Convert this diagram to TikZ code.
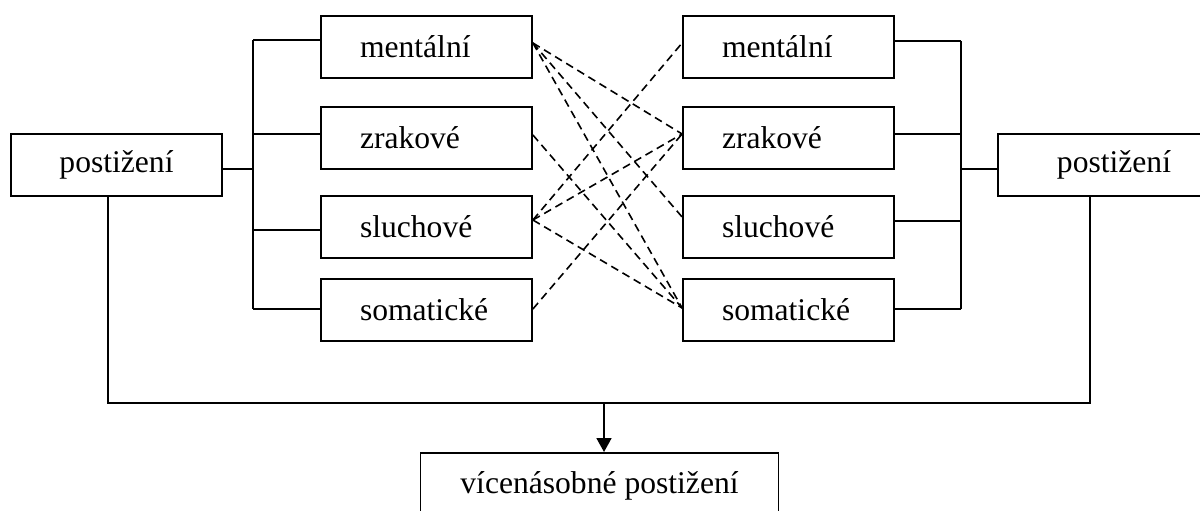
\documentclass[tikz,border=0pt]{standalone}
\usepackage{fontspec}
\setmainfont{Liberation Serif}
\usetikzlibrary{arrows.meta}
\begin{document}
\begin{tikzpicture}[x=1pt,y=-1pt,
  box/.style={draw,line width=1.8pt,inner sep=0pt,minimum height=62pt,
    font=\fontsize{31.6}{38}\selectfont},
  smallbox/.style={box,minimum width=211pt,text width=133pt,inner xsep=39pt,align=left},
  conn/.style={line width=1.8pt},
  dline/.style={line width=1.6pt,dash pattern=on 8pt off 5pt}]
\useasboundingbox (0,0) rectangle (1200,511);
% left side
\node[box,minimum width=211pt] (lp) at (116.5,165) {postižení};
\node[smallbox] (lm) at (426.5,47) {mentální};
\node[smallbox] (lz) at (426.5,138) {zrakové};
\node[smallbox] (ls) at (426.5,227) {sluchové};
\node[smallbox] (lo) at (426.5,310) {somatické};
% right side
\node[smallbox] (rm) at (788.5,47) {mentální};
\node[smallbox] (rz) at (788.5,138) {zrakové};
\node[smallbox] (rs) at (788.5,227) {sluchové};
\node[smallbox] (ro) at (788.5,310) {somatické};
\node[box,minimum width=232pt] (rp) at (1114,165) {postižení};
% bottom
\node[box,anchor=north,minimum width=358pt,minimum height=0pt,inner ysep=18pt,
  text height=23pt,text depth=10pt] (vp) at (599.5,452) {vícenásobné postižení};
% left bracket
\coordinate (lb0) at (253,169);
\coordinate (lb1) at (253,40);
\coordinate (lb2) at (253,134);
\coordinate (lb3) at (253,230);
\coordinate (lb4) at (253,309);
\draw[conn] (lp.east |- lb0) -- (lb0);
\draw[conn] (lb1) -- (lb4);
\draw[conn] (lb1) -- (lm.west |- lb1);
\draw[conn] (lb2) -- (lz.west |- lb2);
\draw[conn] (lb3) -- (ls.west |- lb3);
\draw[conn] (lb4) -- (lo.west |- lb4);
% right bracket
\coordinate (rb0) at (961,169);
\coordinate (rb1) at (961,41);
\coordinate (rb2) at (961,134);
\coordinate (rb3) at (961,221);
\coordinate (rb4) at (961,309);
\draw[conn] (rp.west |- rb0) -- (rb0);
\draw[conn] (rb1) -- (rb4);
\draw[conn] (rb1) -- (rm.east |- rb1);
\draw[conn] (rb2) -- (rz.east |- rb2);
\draw[conn] (rb3) -- (rs.east |- rb3);
\draw[conn] (rb4) -- (ro.east |- rb4);
% bottom connector
\coordinate (ld) at (108,403);
\coordinate (rd) at (1090,403);
\coordinate (ar) at (604,403);
\draw[conn] (ld |- lp.south) -- (ld) -- (rd) -- (rd |- rp.south);
\draw[conn,-{Triangle[width=15pt,length=14pt]}] (ar) -- (ar |- vp.north);
% dashed links
\coordinate (lmE) at (lm.east |- 0,43);
\coordinate (lzE) at (lz.east |- 0,135);
\coordinate (lsE) at (ls.east |- 0,220);
\coordinate (loE) at (lo.east |- 0,309);
\coordinate (rmW) at (rm.west |- 0,43);
\coordinate (rzW) at (rz.west |- 0,134);
\coordinate (rsW) at (rs.west |- 0,217);
\coordinate (roW) at (ro.west |- 0,308);
\draw[dline] (lmE) -- (rzW);
\draw[dline] (lmE) -- (rsW);
\draw[dline] (lmE) -- (roW);
\draw[dline] (lzE) -- (roW);
\draw[dline] (lsE) -- (rmW);
\draw[dline] (lsE) -- (rzW);
\draw[dline] (lsE) -- (roW);
\draw[dline] (loE) -- (rzW);
\end{tikzpicture}
\end{document}
